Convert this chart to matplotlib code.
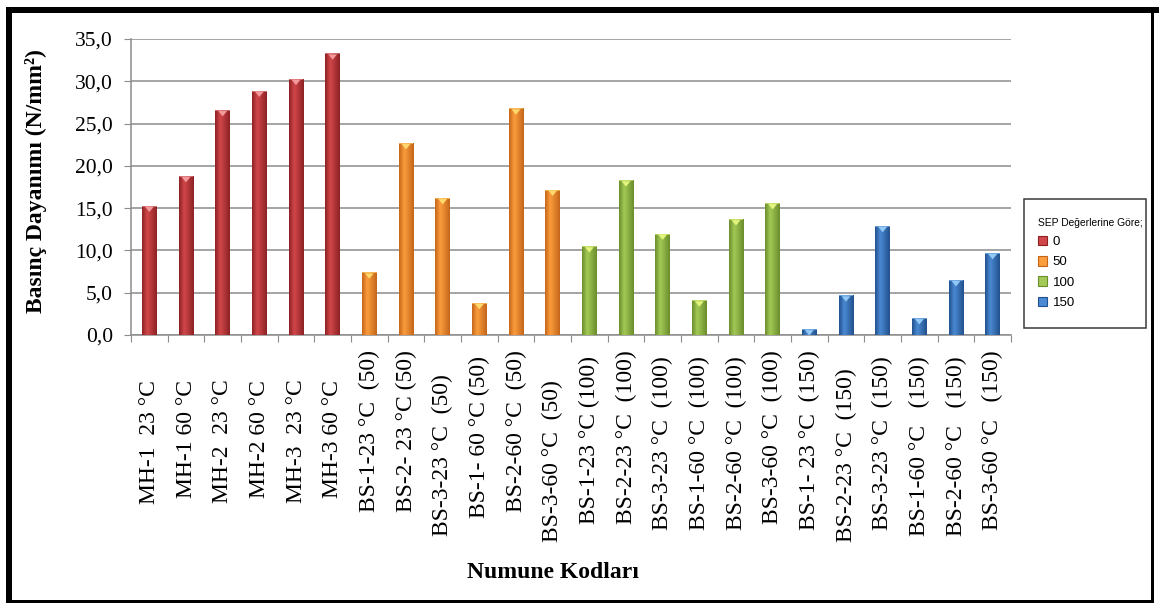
import numpy as np
import matplotlib
matplotlib.use('Agg')
import matplotlib.pyplot as plt
from matplotlib.colors import LinearSegmentedColormap
from matplotlib.patches import Polygon, Patch, Rectangle
from matplotlib.lines import Line2D
from matplotlib.ticker import FuncFormatter, FixedLocator

# sample codes (trailing spaces kept as in the original sheet)
labels = ['MH-1  23 °C     ', 'MH-1 60 °C     ', 'MH-2  23 °C     ',
          'MH-2 60 °C     ', 'MH-3  23 °C     ', 'MH-3 60 °C     ',
          'BS-1-23 °C  (50)', 'BS-2- 23 °C (50)', 'BS-3-23 °C  (50)    ',
          'BS-1- 60 °C (50) ', 'BS-2-60 °C  (50)', 'BS-3-60 °C  (50)     ',
          'BS-1-23 °C (100) ', 'BS-2-23 °C  (100)', 'BS-3-23 °C  (100) ',
          'BS-1-60 °C  (100) ', 'BS-2-60 °C  (100) ', 'BS-3-60 °C  (100)',
          'BS-1- 23 °C  (150)', 'BS-2-23 °C  (150)   ', 'BS-3-23 °C  (150) ',
          'BS-1-60 °C   (150) ', 'BS-2-60 °C   (150) ', 'BS-3-60 °C   (150)']

# compressive strength, N/mm2
values = [15.3, 18.8, 26.6, 28.9, 30.3, 33.3,
          7.4, 22.7, 16.2, 3.8, 26.8, 17.2,
          10.5, 18.3, 12.0, 4.1, 13.7, 15.6,
          0.7, 4.7, 12.9, 2.0, 6.5, 9.7]

# SEP value of each sample
sep = [0, 0, 0, 0, 0, 0,
       50, 50, 50, 50, 50, 50,
       100, 100, 100, 100, 100, 100,
       150, 150, 150, 150, 150, 150]

sep_levels = [0, 50, 100, 150]
yticks = [0, 5, 10, 15, 20, 25, 30, 35]

# (dark edge, bright face, top highlight) per SEP level
colors = {0: ('#8c2124', '#d2474a', '#f29a9b'),
          50: ('#c4661a', '#fb9d3d', '#ffd86e'),
          100: ('#6b8d2c', '#a3ca56', '#e4f57e'),
          150: ('#22508c', '#4a8ad4', '#93c9f7')}

W, H, DPI = 1159, 603, 100
fig = plt.figure(figsize=(W / DPI, H / DPI), dpi=DPI)
fig.patch.set_facecolor('white')

# axes box in pixels: x 131..1011, y 39..335
ax = fig.add_axes([131 / W, 1 - 335 / H, 880 / W, 296 / H])

x = np.arange(len(values))
bw = 0.4
bars = ax.bar(x, values, width=bw, facecolor='none', edgecolor='none', zorder=3)

grad = np.linspace(0, 1, 64).reshape(1, -1)
for b, v, s in zip(bars, values, sep):
    dark, light, hi = colors[s]
    cmap = LinearSegmentedColormap.from_list('bar%d' % s, [(0, dark), (0.35, light), (1, dark)])
    x0 = b.get_x()
    im = ax.imshow(grad, cmap=cmap, extent=(x0, x0 + bw, 0, v), aspect='auto',
                   interpolation='bicubic', zorder=3)
    im.set_clip_path(b)
    # little light triangle on the bar top
    xc = x0 + bw / 2
    tri = Polygon([(xc - bw * 0.3, v - 0.12), (xc + bw * 0.3, v - 0.12), (xc, v - 0.75)],
                  closed=True, facecolor=hi, edgecolor='none', zorder=4)
    ax.add_patch(tri)
    tri.set_clip_path(b)
    cap = Rectangle((x0, v - 0.12), bw, 0.12, facecolor=hi, edgecolor='none', alpha=0.6, zorder=4)
    ax.add_patch(cap)

ax.set_xlim(-0.5, len(values) - 0.5)
ax.set_ylim(0, 35)

# grid and axes
grid_col = '#8c8c8c'
ax.set_yticks(yticks)
ax.yaxis.set_major_formatter(FuncFormatter(lambda v, p: ('%.1f' % v).replace('.', ',')))
ax.grid(axis='y', color=grid_col, linewidth=1.1, zorder=0)
ax.set_axisbelow(True)
for s in ['top', 'right']:
    ax.spines[s].set_visible(False)
for s in ['left', 'bottom']:
    ax.spines[s].set_color(grid_col)
    ax.spines[s].set_linewidth(1.1)

# category boundaries get tick marks, centres get the labels
ax.xaxis.set_major_locator(FixedLocator(np.arange(len(values) + 1) - 0.5))
ax.xaxis.set_minor_locator(FixedLocator(x))
ax.set_xticklabels([])
ax.set_xticklabels(labels, minor=True, rotation=90, va='top', ha='center',
                   fontfamily='Liberation Serif', fontsize=17)
ax.tick_params(axis='x', which='major', length=5, width=0.8, color=grid_col)
ax.tick_params(axis='x', which='minor', length=0, pad=11)
ax.tick_params(axis='y', length=5, width=0.8, color=grid_col, pad=8)
for t in ax.get_yticklabels():
    t.set_fontfamily('Liberation Serif')
    t.set_fontsize(15.5)

ax.set_ylabel('Basınç Dayanımı (N/mm²)', fontfamily='Liberation Serif',
              fontweight='bold', fontsize=17)
ax.yaxis.set_label_coords(-0.0955, 0.52)
fig.text(553 / W, 1 - 573 / H, 'Numune Kodları', fontfamily='Liberation Serif',
         fontweight='bold', fontsize=17, ha='center', va='center')

# legend
handles = [Patch(facecolor=colors[k][1], edgecolor=colors[k][0], linewidth=0.8)
           for k in sep_levels]
leg_font = ['Liberation Sans', 'DejaVu Sans']
leg = fig.legend(handles, [str(k) for k in sep_levels], loc='upper left',
                 bbox_to_anchor=(1031 / W, 1 - 211 / H), frameon=False,
                 title='SEP Değerlerine Göre;', alignment='left',
                 prop={'family': leg_font, 'size': 9.5},
                 title_fontproperties={'family': leg_font, 'size': 7.4},
                 borderpad=0, handlelength=0.75, handleheight=0.75,
                 handletextpad=0.4, labelspacing=0.6)
fig.add_artist(Rectangle((1024 / W, 1 - 328 / H), 122 / W, 129 / H,
                         transform=fig.transFigure, facecolor='none',
                         edgecolor='#3a3a3a', linewidth=1.1))

# outer frame
def frame_line(xs, ys, lw):
    fig.add_artist(Line2D([v / W for v in xs], [1 - v / H for v in ys],
                          transform=fig.transFigure, color='black',
                          linewidth=lw * 0.72, solid_capstyle='projecting'))

frame_line([9, 1159], [10, 10], 6)
frame_line([9, 9], [10, 600.5], 6)
frame_line([9, 1152], [600.5, 600.5], 3)
frame_line([1152, 1152], [10, 600.5], 3)

fig.savefig('out.png', dpi=DPI)
